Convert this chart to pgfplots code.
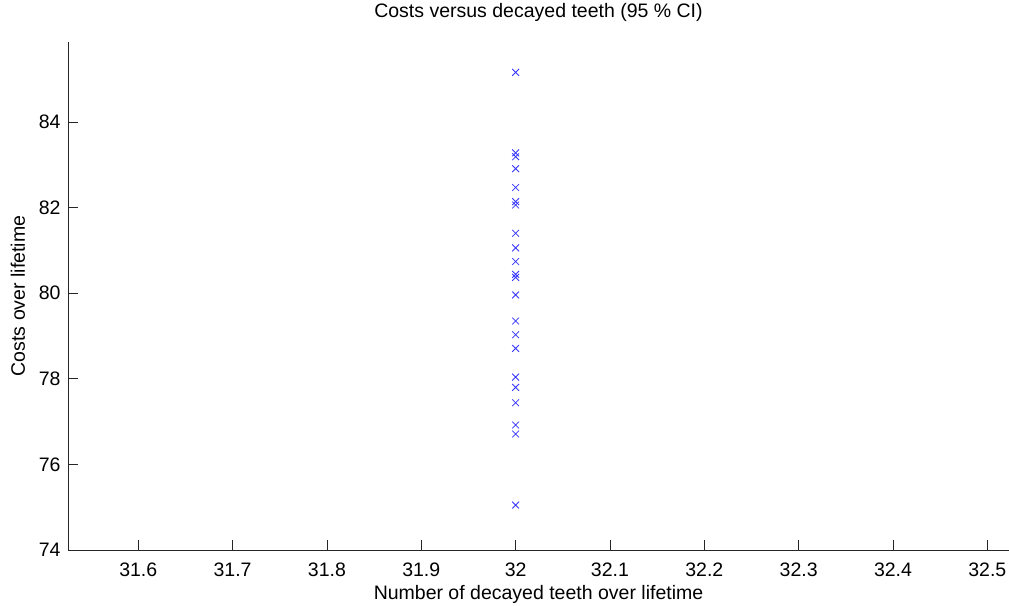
\documentclass[border=0pt]{standalone}
\usepackage{pgfplots}
\pgfplotsset{compat=1.18}
\usepackage{fontspec}
\setmainfont{Liberation Sans}
\usetikzlibrary{calc}
\begin{document}
\begin{tikzpicture}[font=\fontsize{19.5}{23}\selectfont]
\begin{axis}[
  scale only axis,
  width=941pt, height=508pt,
  xmin=31.5255, xmax=32.523,
  ymin=74, ymax=85.87,
  axis x line*=bottom, axis y line*=left,
  axis line style={-, line width=0.8pt, black!85},
  xtick={31.6,31.7,31.8,31.9,32,32.1,32.2,32.3,32.4,32.5},
  xticklabels={31.6,31.7,31.8,31.9,32,32.1,32.2,32.3,32.4,32.5},
  ytick={74,76,78,80,82,84},
  yticklabels={74,76,78,80,82,84},
  tick align=inside,
  major tick length=10pt,
  tick style={line width=0.8pt, black!85},
  /pgf/number format/assume math mode=true,
  xticklabel style={anchor=center, yshift=-20pt},
  yticklabel style={anchor=east, xshift=-4pt},
  title={Costs versus decayed teeth (95 \% CI)},
  title style={at={(axis description cs:0.5,1)}, anchor=center, yshift=24pt},
  xlabel={Number of decayed teeth over lifetime},
  ylabel={Costs over lifetime},
  xlabel style={at={(axis description cs:0.5,0)}, anchor=center, yshift=-44pt},
  ylabel style={at={(axis description cs:0,0.5)}, anchor=center, rotate=0, yshift=50pt},
  clip=false,
]
\addplot[only marks, mark=x, mark size=4.8pt, blue!80, mark options={line width=0.8pt}] coordinates {
(32,85.16) (32,83.28) (32,83.19) (32,82.91) (32,82.47) (32,82.14) (32,82.06)
(32,81.40) (32,81.06) (32,80.74) (32,80.44) (32,80.37) (32,79.96) (32,79.35)
(32,79.03) (32,78.71) (32,78.04) (32,77.80) (32,77.44) (32,76.92) (32,76.71)
(32,75.05)
};
\end{axis}
\pgfresetboundingbox
\path[use as bounding box] ($(current axis.south west)+(-68pt,-55pt)$) rectangle ($(current axis.north east)+(0pt,42pt)$);
\end{tikzpicture}
\end{document}
